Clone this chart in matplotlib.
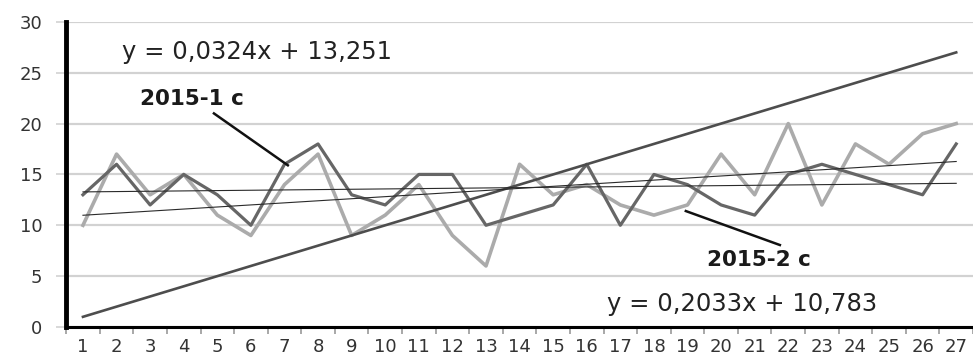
import matplotlib.pyplot as plt
from matplotlib.ticker import FixedLocator

days = list(range(1, 28))
series_1 = [13, 16, 12, 15, 13, 10, 16, 18, 13, 12, 15, 15, 10, 11, 12, 16,
            10, 15, 14, 12, 11, 15, 16, 15, 14, 13, 18]
series_2 = [10, 17, 13, 15, 11, 9, 14, 17, 9, 11, 14, 9, 6, 16, 13, 14,
            12, 11, 12, 17, 13, 20, 12, 18, 16, 19, 20]
rank = [1, 2, 3, 4, 5, 6, 7, 8, 9, 10, 11, 12, 13, 14, 15, 16, 17, 18, 19,
        20, 21, 22, 23, 24, 25, 26, 27]

# trend coefficients (slope, intercept)
trend_1 = (0.0324, 13.251)
trend_2 = (0.2033, 10.783)

fig = plt.figure(figsize=(9.73, 3.56), dpi=100)
ax = fig.add_axes([0.068, 0.0815, 0.932, 0.857])

ax.plot(days, series_2, color='#ababab', lw=2.6, zorder=3)
ax.plot(days, series_1, color='#666666', lw=2.3, zorder=4)
ax.plot(days, rank, color='#4d4d4d', lw=1.9, zorder=5)

for slope, icpt in (trend_1, trend_2):
    ax.plot([days[0], days[-1]], [slope * days[0] + icpt, slope * days[-1] + icpt],
            color='#2a2a2a', lw=0.8, zorder=6)

ax.set_xlim(0.5, 27.5)
ax.set_ylim(0, 30)
ax.set_yticks(range(0, 31, 5))
ax.set_xticks(days)
ax.set_xticklabels([str(d) for d in days])
ax.xaxis.set_minor_locator(FixedLocator([d + 0.5 for d in range(0, 28)]))

ax.grid(axis='y', color='#d2d2d2', lw=1.6, zorder=0)
ax.set_axisbelow(True)

for side in ('top', 'right'):
    ax.spines[side].set_visible(False)
ax.spines['left'].set_linewidth(3.5)
ax.spines['bottom'].set_linewidth(2.2)

ax.tick_params(axis='x', which='major', length=0, pad=8, labelsize=13, labelcolor='#333333')
ax.tick_params(axis='x', which='minor', length=5, width=1.2, color='#999999')
ax.tick_params(axis='y', which='major', length=7, width=1.2, color='#d2d2d2',
               labelsize=13, labelcolor='#333333', pad=10)

ax.text(2.17, 27.0, 'y = 0,0324x + 13,251', fontsize=17.5, va='center', ha='left', color='#222222')
ax.text(16.6, 2.26, 'y = 0,2033x + 10,783', fontsize=17.5, va='center', ha='left', color='#222222')

ax.text(2.7, 22.4, '2015-1 c', fontsize=15.5, fontweight='bold', va='center', ha='left', color='#1a1a1a')
ax.plot([4.9, 7.1], [21.0, 15.9], color='#111111', lw=1.8, zorder=7)
ax.text(19.58, 6.6, '2015-2 c', fontsize=15.5, fontweight='bold', va='center', ha='left', color='#1a1a1a')
ax.plot([18.95, 21.75], [11.4, 8.06], color='#111111', lw=1.8, zorder=7)

fig.savefig('out.png', dpi=100)
